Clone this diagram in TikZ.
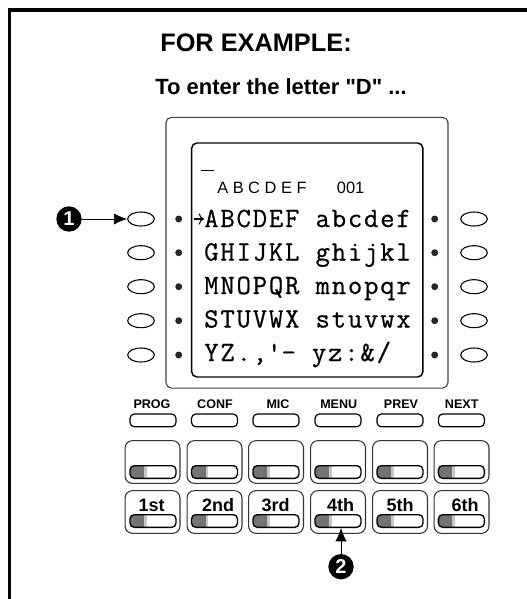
\documentclass[tikz,border=0pt]{standalone}
\usepackage{fontspec}
\setmainfont{Liberation Sans}
\newfontfamily\rowfont{Latin Modern Mono}[LetterSpace=6.5, FakeBold=0.7]
\usepackage{xcolor}
\usetikzlibrary{positioning, arrows.meta, calc, shapes.geometric}

\begin{document}
\begin{tikzpicture}[
  x=0.75pt, y=-0.75pt,
  title/.style={anchor=base, inner sep=0pt, font=\fontsize{19}{21}\selectfont\bfseries},
  subtitle/.style={anchor=base, inner sep=0pt, font=\fontsize{16.5}{18}\selectfont\bfseries},
  status/.style={anchor=base west, inner sep=0pt, font=\fontsize{12.3}{14}\selectfont},
  row/.style={anchor=base west, inner sep=0pt, font=\fontsize{20.9}{24}\selectfont\rowfont},
  oval/.style={draw, ellipse, minimum width=20pt, minimum height=10.5pt, inner sep=0pt, line width=0.8pt},
  dot/.style={circle, fill=black!85, minimum size=5.2pt, inner sep=0pt},
  badge/.style={circle, fill=black, text=white, minimum size=19pt, inner sep=0pt, font=\fontsize{15}{16}\selectfont\bfseries},
  softlabel/.style={anchor=base, inner sep=0pt, font=\fontsize{9.4}{11}\selectfont\bfseries},
  softkey/.style={draw, rounded corners=3.2pt, minimum width=34.5pt, minimum height=9.5pt, inner sep=0pt, line width=0.9pt},
  linekey/.style={draw, black!80, rounded corners=5.5pt, minimum width=41.2pt, minimum height=32pt, inner sep=0pt, line width=0.8pt},
  keylabel/.style={anchor=base, inner sep=0pt, font=\fontsize{13.5}{15}\selectfont\bfseries},
  lamp/.style={draw, rounded corners=3.2pt, minimum width=34.5pt, minimum height=9.5pt, inner sep=0pt, line width=1pt,
    path picture={
      \fill[black!55, sharp corners] (path picture bounding box.south west) rectangle ++(10.5pt,9.5pt);
      \fill[black!22, sharp corners] ($(path picture bounding box.south west)+(10.5pt,0)$) rectangle ++(2pt,9.5pt);}},
  arrow/.style={-{Latex[length=10pt, width=8.5pt]}, line width=0.7pt}
]
\useasboundingbox (0,0) rectangle (527,599);

% Page frame, open at right and bottom
\coordinate (frameA) at (9.5,599);
\coordinate (frameB) at (9.5,10);
\coordinate (frameC) at (527,10);
\draw[line width=2.4pt] (frameA) -- (frameB) -- (frameC);

% Heading
\node[title] (head) at (256,52) {FOR EXAMPLE:};
\node[subtitle] (sub) at (281,95) {To enter the letter \textquotedbl D\textquotedbl\ ...};

% Panel and display
\node[draw, black!75, rounded corners=4pt, line width=0.8pt, minimum width=211.5pt, minimum height=203pt, inner sep=0pt] (panel) at (307,252.7) {};
\node[draw, rounded corners=4pt, line width=1.1pt, minimum width=173.5pt, minimum height=175.5pt, inner sep=0pt] (display) at (307.3,260) {};

% Display text
\coordinate (cursorA) at (201,170);
\coordinate (cursorB) at (214,170);
\draw[line width=0.7pt] (cursorA) -- (cursorB);
\node[status] (letters) at (217,193.3) {A B C D E F};
\node[status] (count) at (336.7,193.3) {001};
\node[row] (rowA) at (204,227) {ABCDEF abcdef};
\node[row] (rowB) at (204,260.5) {GHIJKL ghijkl};
\node[row] (rowC) at (204,294) {MNOPQR mnopqr};
\node[row] (rowD) at (204,327.5) {STUVWX stuvwx};
\node[row] (rowE) at (204,361) {YZ.,\textquotesingle- yz:\&/};
\coordinate (pointer) at (194,219);
\draw[-{To[length=4pt]}, line width=0.8pt] (pointer) -- (pointer -| rowA.west);

% Left softkeys and dots
\node[oval] (ovalLa) at (141,219) {};
\node[oval] (ovalLb) at (141,252.7) {};
\node[oval] (ovalLc) at (141,286.7) {};
\node[oval] (ovalLd) at (141,320.7) {};
\node[oval] (ovalLe) at (141,355) {};
\node[dot] (dotLa) at (178.7,219) {};
\node[dot] (dotLb) at (178.7,252.7) {};
\node[dot] (dotLc) at (178.7,286.7) {};
\node[dot] (dotLd) at (178.7,320.7) {};
\node[dot] (dotLe) at (178.7,355) {};

% Right softkeys and dots
\node[oval] (ovalRa) at (474,219) {};
\node[oval] (ovalRb) at (474,252.7) {};
\node[oval] (ovalRc) at (474,286.7) {};
\node[oval] (ovalRd) at (474,320.7) {};
\node[oval] (ovalRe) at (474,355) {};
\node[dot] (dotRa) at (434.7,219) {};
\node[dot] (dotRb) at (434.7,252.7) {};
\node[dot] (dotRc) at (434.7,286.7) {};
\node[dot] (dotRd) at (434.7,320.7) {};
\node[dot] (dotRe) at (434.7,355) {};

% Callout 1
\node[badge] (one) at (69,219) {1};
\draw[arrow] (one) -- (ovalLa);

% Function keys
\node[softlabel] (labProg) at (152,408.5) {PROG};
\node[softlabel] (labConf) at (215,408.5) {CONF};
\node[softlabel] (labMic) at (278,408.5) {MIC};
\node[softlabel] (labMenu) at (338.7,408.5) {MENU};
\node[softlabel] (labPrev) at (401,408.5) {PREV};
\node[softlabel] (labNext) at (461.7,408.5) {NEXT};
\node[softkey] (prog) at (153,420.4) {};
\node[softkey] (conf) at (214.5,420.4) {};
\node[softkey] (mic) at (276,420.4) {};
\node[softkey] (menu) at (338,420.4) {};
\node[softkey] (prev) at (400,420.4) {};
\node[softkey] (next) at (461.4,420.4) {};

% Upper line keys
\node[linekey] (keyA) at (152.5,462) {};
\node[linekey] (keyB) at (214.5,462) {};
\node[linekey] (keyC) at (276,462) {};
\node[linekey] (keyD) at (338,462) {};
\node[linekey] (keyE) at (400,462) {};
\node[linekey] (keyF) at (461.5,462) {};
\node[lamp] (lampA) at (153,472) {};
\node[lamp] (lampB) at (214.5,472) {};
\node[lamp] (lampC) at (276,472) {};
\node[lamp] (lampD) at (338,472) {};
\node[lamp] (lampE) at (400,472) {};
\node[lamp] (lampF) at (461.4,472) {};

% Lower line keys
\node[linekey] (keyG) at (152.5,512) {};
\node[linekey] (keyH) at (214.5,512) {};
\node[linekey] (keyI) at (276,512) {};
\node[linekey] (keyJ) at (338,512) {};
\node[linekey] (keyK) at (400,512) {};
\node[linekey] (keyL) at (461.5,512) {};
\node[keylabel] (labA) at (151.7,511) {1st};
\node[keylabel] (labB) at (218,511) {2nd};
\node[keylabel] (labC) at (275.7,511) {3rd};
\node[keylabel] (labD) at (340.7,511) {4th};
\node[keylabel] (labE) at (400,511) {5th};
\node[keylabel] (labF) at (465,511) {6th};
\node[lamp] (lampG) at (153,521) {};
\node[lamp] (lampH) at (214.5,521) {};
\node[lamp] (lampI) at (276,521) {};
\node[lamp] (lampJ) at (338,521) {};
\node[lamp] (lampK) at (400,521) {};
\node[lamp] (lampL) at (461.4,521) {};

% Callout 2
\node[badge] (two) at (341,566.7) {2};
\draw[arrow] (two) -- (two |- lampJ.south);

\end{tikzpicture}
\end{document}
